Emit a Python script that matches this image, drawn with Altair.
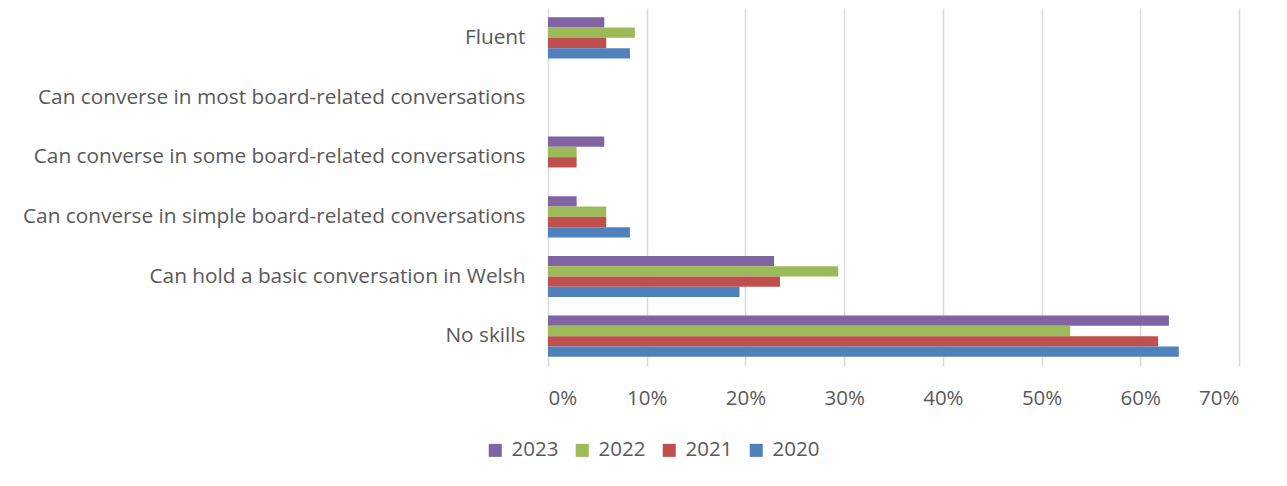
import altair as alt
import pandas as pd

categories = [
    "Fluent",
    "Can converse in most board-related conversations",
    "Can converse in some board-related conversations",
    "Can converse in simple board-related conversations",
    "Can hold a basic conversation in Welsh",
    "No skills",
]
years = ["2023", "2022", "2021", "2020"]
colors = ["#8064A2", "#9BBB59", "#C0504D", "#4F81BD"]

v2023 = [0.057, 0.0, 0.057, 0.029, 0.229, 0.629]
v2022 = [0.088, 0.0, 0.029, 0.059, 0.294, 0.529]
v2021 = [0.059, 0.0, 0.029, 0.059, 0.235, 0.618]
v2020 = [0.083, 0.0, 0.0, 0.083, 0.194, 0.639]

rows = []
for yr, vals in zip(years, [v2023, v2022, v2021, v2020]):
    for c, v in zip(categories, vals):
        rows.append({"category": c, "year": yr, "value": v})
df = pd.DataFrame(rows)

FONT = "Open Sans"
GREY = "#595959"

chart = (
    alt.Chart(df)
    .mark_bar()
    .encode(
        x=alt.X(
            "value:Q",
            scale=alt.Scale(domain=[0, 0.7], nice=False),
            axis=alt.Axis(
                format=".0%",
                values=[0, 0.1, 0.2, 0.3, 0.4, 0.5, 0.6, 0.7],
                title=None,
                grid=True,
                gridColor="#D9D9D9",
                gridWidth=1.5,
                domain=False,
                ticks=False,
                labelFont=FONT,
                labelFontSize=20.5,
                labelColor=GREY,
                labelPadding=22,
            ),
        ),
        y=alt.Y(
            "category:N",
            sort=categories,
            scale=alt.Scale(paddingInner=0.31, paddingOuter=0.155),
            axis=alt.Axis(
                title=None,
                domain=False,
                ticks=False,
                labelFont=FONT,
                labelFontSize=20.8,
                labelColor=GREY,
                labelPadding=23,
                labelLimit=600,
            ),
        ),
        yOffset=alt.YOffset("year:N", sort=years),
        color=alt.Color(
            "year:N",
            sort=years,
            scale=alt.Scale(domain=years, range=colors),
            legend=alt.Legend(
                title=None,
                orient="none",
                direction="horizontal",
                legendX=-63,
                legendY=432,
                symbolType="square",
                symbolSize=170,
                symbolStrokeWidth=0,
                labelFont=FONT,
                labelFontSize=20.5,
                labelColor=GREY,
                labelOffset=6,
                columnPadding=13,
            ),
        ),
    )
    .properties(
        width=691,
        height=358,
        autosize=alt.AutoSizeParams(type="none"),
        padding={"left": 540, "top": 0, "right": 30, "bottom": 110},
    )
    .configure_view(stroke=None)
)

chart.save("out.html", embed_options={"renderer": "svg", "actions": False})
